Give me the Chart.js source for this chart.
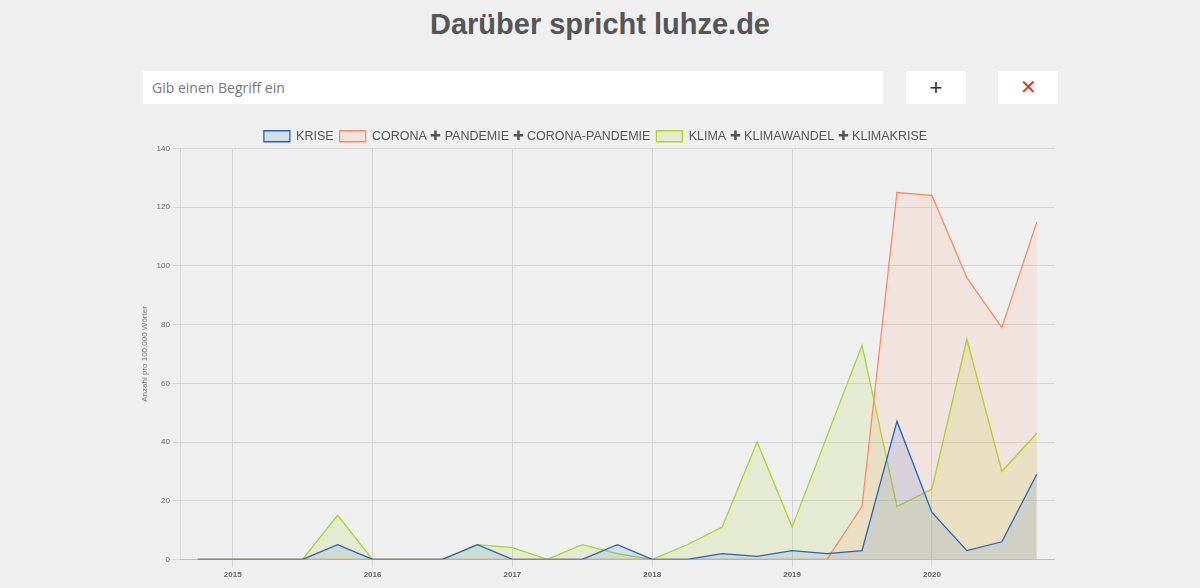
<!DOCTYPE html>
<html><head><meta charset="utf-8">
<script src="https://cdn.jsdelivr.net/npm/chart.js@4"></script>
<style>
body{margin:0;background:#efefef;font-family:"Liberation Sans",Arial,sans-serif;width:1200px;height:588px;overflow:hidden;position:relative}
h1{position:absolute;top:8px;left:0;width:1200px;text-align:center;margin:0;font-size:29px;color:#555;font-weight:bold}
.inp{position:absolute;left:143px;top:71px;width:740px;height:33px;background:#fff;box-sizing:border-box;padding-left:9px;line-height:33px;font-family:"Open Sans";font-size:14px;color:#777}
.btn{position:absolute;top:71px;width:60px;height:33px;background:#fff;text-align:center;line-height:33px;font-size:22px}
#wrap{position:absolute;left:136px;top:120px;width:919px;height:463px}
</style></head><body>
<h1>Darüber spricht luhze.de</h1>
<div class="inp">Gib einen Begriff ein</div>
<div class="btn" style="left:906px;color:#333">+</div>
<div class="btn" style="left:998px;color:#e03030;font-size:20px">✕</div>
<div id="wrap"><canvas id="c"></canvas></div>
<script>
const quarters=[2014.75,2015,2015.25,2015.5,2015.75,2016,2016.25,2016.5,2016.75,2017,2017.25,2017.5,2017.75,2018,2018.25,2018.5,2018.75,2019,2019.25,2019.5,2019.75,2020,2020.25,2020.5,2020.75];
const krise=[0,0,0,0,5,0,0,0,5,0,0,0,5,0,0,2,1,3,2,3,47,16,3,6,29];
const corona=[0,0,0,0,0,0,0,0,0,0,0,0,0,0,0,0,0,0,0,18,125,124,96,79,115];
const klima=[0,0,0,0,15,0,0,0,5,4,0,5,2,0,5,11,40,11,42,73,18,24,75,30,43];
const labels=["KRISE","CORONA ✚ PANDEMIE ✚ CORONA-PANDEMIE","KLIMA ✚ KLIMAWANDEL ✚ KLIMAKRISE"];
const mk=v=>quarters.map((q,i)=>({x:q,y:v[i]}));
const legendFit={id:'legendFit',afterInit(c){const L=c.legend;const f=L.fit;L.fit=function(){f.call(this);this.height-=4;};}};
new Chart(document.getElementById('c'),{type:'line',plugins:[legendFit],data:{datasets:[
{label:labels[0],data:mk(krise),borderColor:'#1e64c8',backgroundColor:'rgba(30,100,200,0.12)',fill:'origin',borderWidth:1.3,pointRadius:0,tension:0},
{label:labels[1],data:mk(corona),borderColor:'#ff8a5c',backgroundColor:'rgba(255,138,92,0.12)',fill:'origin',borderWidth:1.3,pointRadius:0,tension:0},
{label:labels[2],data:mk(klima),borderColor:'#a8d820',backgroundColor:'rgba(168,216,32,0.14)',fill:'origin',borderWidth:1.3,pointRadius:0,tension:0}
]},options:{responsive:true,maintainAspectRatio:false,animation:false,layout:{padding:{top:4}},
plugins:{legend:{labels:{boxWidth:26,boxHeight:11,font:{size:12.5,family:'Liberation Sans'},color:'#555',padding:6}},tooltip:{enabled:false}},
scales:{x:{type:'linear',min:2014.63,max:2020.88,afterBuildTicks:a=>{a.ticks=[2015,2016,2017,2018,2019,2020].map(v=>({value:v}))},
ticks:{font:{size:8,weight:'bold'},color:'#666',callback:v=>String(v)},grid:{color:'#d4d4d4'}},
y:{min:0,max:140,ticks:{stepSize:20,font:{size:8},color:'#666'},grid:{color:'#d4d4d4'},title:{display:true,text:'Anzahl pro 100.000 Wörter',font:{size:8},color:'#777'}}}}});
</script></body></html>
